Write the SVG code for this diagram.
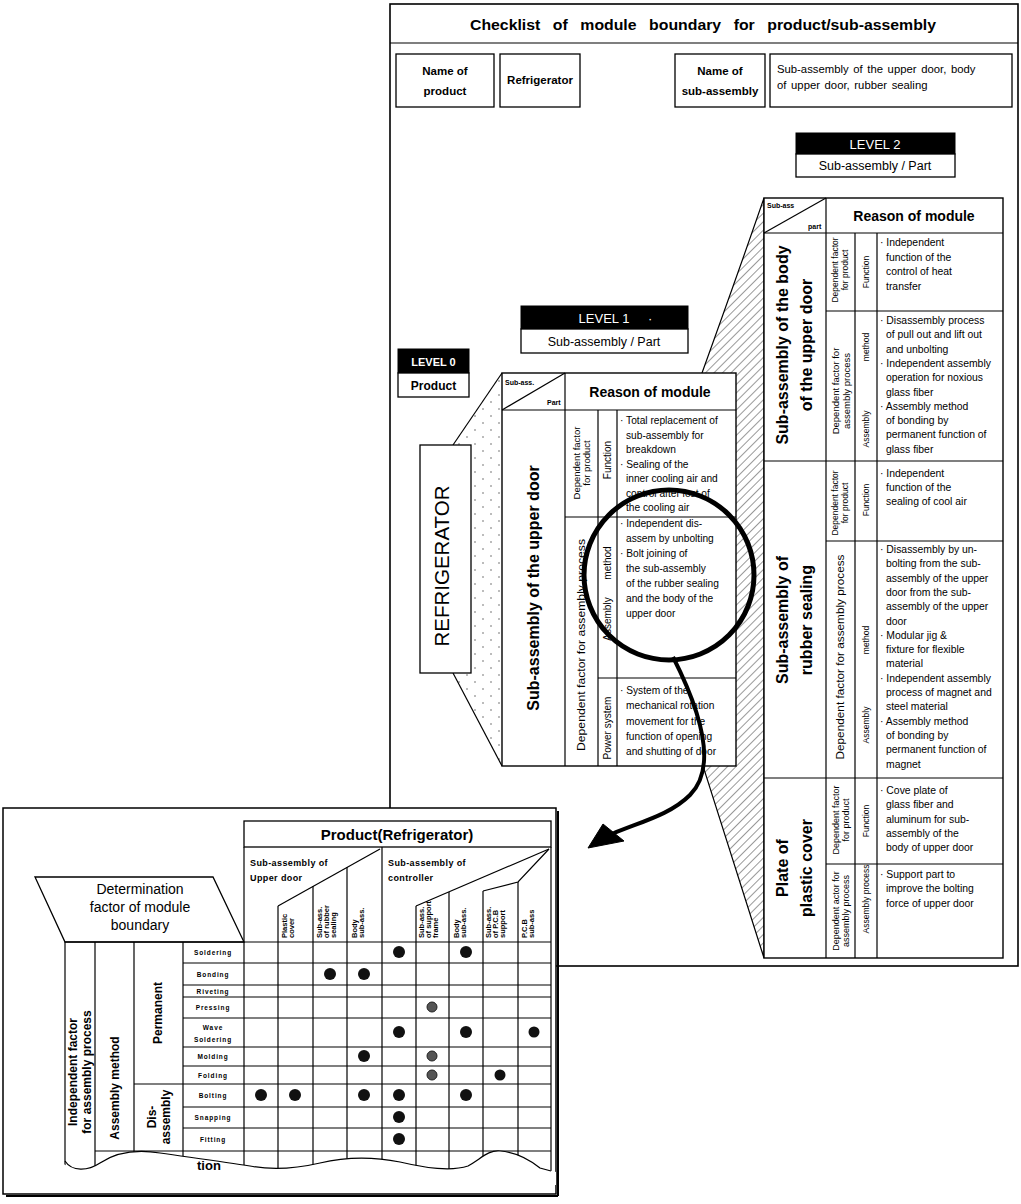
<svg xmlns="http://www.w3.org/2000/svg" width="1021" height="1204" viewBox="0 0 1021 1204">
<defs>
<pattern id="hatch" patternUnits="userSpaceOnUse" width="6" height="6" patternTransform="rotate(45)">
<line x1="0" y1="0" x2="0" y2="6" stroke="#000" stroke-width="0.8"/>
</pattern>
<pattern id="dots" patternUnits="userSpaceOnUse" width="16" height="14">
<circle cx="3" cy="3" r="0.7" fill="#444"/>
<circle cx="11" cy="10" r="0.7" fill="#444"/>
</pattern>
<style>
text{font-family:"Liberation Sans",Arial,Helvetica,sans-serif;fill:#000}
.b{font-weight:bold}
.ln{stroke:#000;stroke-width:1.2;fill:none}
.box{fill:#fff;stroke:#000;stroke-width:1.3}
.blk{fill:#000;stroke:#000;stroke-width:1}
.wt{fill:#fff}
.tx{font-size:10.4px}
.tx1{font-size:10.2px}
.dep{font-size:8.5px}
.cat{font-size:8.5px}
.nm{font-size:16px;font-weight:bold}
.rl{font-size:6.5px;font-weight:bold;letter-spacing:0.9px}
.ch{font-size:7.5px;font-weight:bold}
.dot{fill:#111}
.gdot{fill:#555;stroke:#222;stroke-width:1}
</style>
</defs>

<!-- TOP PANEL -->
<g id="top-panel">
<rect x="390" y="4" width="628" height="962" fill="#fff" stroke="#000" stroke-width="1.6"/>
<line x1="390" y1="43" x2="1018" y2="43" class="ln"/>
<text x="470" y="30" class="b" font-size="15.5" word-spacing="8" textLength="466" lengthAdjust="spacingAndGlyphs">Checklist of module boundary for product/sub-assembly</text>
</g>

<g id="name-of-product">
<rect x="396" y="54" width="98" height="53" class="box"/>
<text x="445" y="75" class="b" font-size="11.5" text-anchor="middle">Name of</text>
<text x="445" y="95" class="b" font-size="11.5" text-anchor="middle">product</text>
</g>
<g id="refrigerator-name">
<rect x="500" y="54" width="80" height="53" class="box"/>
<text x="540" y="84" class="b" font-size="11.5" text-anchor="middle">Refrigerator</text>
</g>
<g id="name-of-sub-assembly">
<rect x="675" y="54" width="90" height="53" class="box"/>
<text x="720" y="75" class="b" font-size="11.5" text-anchor="middle">Name of</text>
<text x="720" y="95" class="b" font-size="11.5" text-anchor="middle">sub-assembly</text>
</g>
<g id="sub-assembly-desc">
<rect x="770" y="54" width="242" height="53" class="box"/>
<text x="777" y="73" font-size="11.3" word-spacing="1.5">Sub-assembly of the upper door, body</text>
<text x="777" y="89" font-size="11.3" word-spacing="1.5">of upper door, rubber sealing</text>
</g>

<!-- connectors between levels -->
<g id="connectors">
<path d="M453 445 L502 373 L502 766 L453 673 Z" fill="url(#dots)"/>
<line x1="453" y1="445" x2="502" y2="373" class="ln"/>
<line x1="453" y1="673" x2="502" y2="766" class="ln"/>
<path d="M764 198 Q742 262 702 373 L703 766 L764 958 Z" fill="url(#hatch)" stroke="#000" stroke-width="1.2"/>
</g>

<!-- LEVEL labels -->
<g id="level0">
<rect x="398" y="349" width="71" height="24" class="blk"/>
<text x="433.5" y="366" class="b wt" font-size="11" text-anchor="middle">LEVEL 0</text>
<rect x="398" y="373" width="71" height="24" class="box"/>
<text x="433.5" y="390" class="b" font-size="12" text-anchor="middle">Product</text>
</g>
<g id="level1">
<rect x="521" y="306" width="167" height="23" class="blk"/>
<text x="604" y="323" font-size="13" class="wt" text-anchor="middle">LEVEL 1</text>
<text x="648" y="323" font-size="13" class="wt">·</text>
<rect x="521" y="329" width="167" height="24" class="box"/>
<text x="604" y="346" font-size="12.5" text-anchor="middle">Sub-assembly / Part</text>
</g>
<g id="level2">
<rect x="796" y="133" width="159" height="21" class="blk"/>
<text x="875" y="149" font-size="13" class="wt" text-anchor="middle">LEVEL 2</text>
<rect x="796" y="154" width="159" height="23" class="box"/>
<text x="875" y="170" font-size="12.5" text-anchor="middle">Sub-assembly / Part</text>
</g>

<!-- LEVEL 0 node -->
<g id="refrigerator-box">
<rect x="420" y="445" width="51" height="228" class="box"/>
<text transform="rotate(-90 449 566)" x="449" y="566" font-size="20.5" text-anchor="middle">REFRIGERATOR</text>
</g>

<!-- LEVEL 1 table -->
<g id="level1-table">
<rect x="502" y="373" width="234" height="393" fill="#fff" stroke="#000" stroke-width="1.4"/>
<line x1="502" y1="410" x2="736" y2="410" class="ln"/>
<line x1="565" y1="373" x2="565" y2="766" class="ln"/>
<line x1="502" y1="410" x2="565" y2="373" class="ln"/>
<line x1="598" y1="410" x2="598" y2="766" class="ln"/>
<line x1="617" y1="410" x2="617" y2="766" class="ln"/>
<line x1="565" y1="517" x2="736" y2="517" class="ln"/>
<line x1="598" y1="678" x2="736" y2="678" class="ln"/>
<text x="505" y="385" class="b" font-size="7">Sub-ass.</text>
<text x="547" y="405" class="b" font-size="7">Part</text>
<text x="650" y="397" class="b" font-size="14" text-anchor="middle">Reason of module</text>
<text transform="rotate(-90 539 588)" x="539" y="588" class="b" font-size="16" text-anchor="middle">Sub-assembly of the upper door</text>
<text transform="rotate(-90 580 463)" x="580" y="463" font-size="9.5" text-anchor="middle">Dependent factor</text>
<text transform="rotate(-90 590 463)" x="590" y="463" font-size="9.5" text-anchor="middle">for product</text>
<text transform="rotate(-90 585 645)" x="585" y="645" font-size="10" text-anchor="middle" textLength="212" lengthAdjust="spacingAndGlyphs">Dependent factor for assembly process</text>
<text transform="rotate(-90 611 460)" x="611" y="460" font-size="10" text-anchor="middle">Function</text>
<text transform="rotate(-90 611 619)" x="611" y="619" font-size="10" text-anchor="middle">Assembly</text>
<text transform="rotate(-90 611 563)" x="611" y="563" font-size="10" text-anchor="middle">method</text>
<text transform="rotate(-90 611 728)" x="611" y="728" font-size="10" text-anchor="middle">Power system</text>
<text class="tx1"><tspan x="620" y="424">· Total replacement of</tspan><tspan x="626" y="438.5">sub-assembly   for</tspan><tspan x="626" y="453">breakdown</tspan><tspan x="620" y="467.5">· Sealing of   the</tspan><tspan x="626" y="482">inner cooling air and</tspan><tspan x="626" y="496.5">control after lost of</tspan><tspan x="626" y="511">the cooling air</tspan></text>
<text class="tx1"><tspan x="620" y="527">· Independent dis-</tspan><tspan x="626" y="542">assem by unbolting</tspan><tspan x="620" y="557">· Bolt joining of</tspan><tspan x="626" y="572">the sub-assembly</tspan><tspan x="626" y="587">of the rubber sealing</tspan><tspan x="626" y="602">and the body of the</tspan><tspan x="626" y="617">upper door</tspan></text>
<text class="tx1"><tspan x="620" y="694">· System of the</tspan><tspan x="626" y="709.3">mechanical rotation</tspan><tspan x="626" y="724.6">movement for the</tspan><tspan x="626" y="739.9">function of opening</tspan><tspan x="626" y="755.2">and shutting of door</tspan></text>
</g>

<!-- LEVEL 2 table -->
<g id="level2-table">
<rect x="764" y="198" width="239" height="760" fill="#fff" stroke="#000" stroke-width="1.4"/>
<line x1="764" y1="233" x2="1003" y2="233" class="ln"/>
<line x1="826" y1="198" x2="826" y2="958" class="ln"/>
<line x1="764" y1="233" x2="826" y2="198" class="ln"/>
<line x1="855" y1="233" x2="855" y2="958" class="ln"/>
<line x1="877" y1="233" x2="877" y2="958" class="ln"/>
<line x1="764" y1="461" x2="1003" y2="461" class="ln"/>
<line x1="764" y1="778" x2="1003" y2="778" class="ln"/>
<line x1="826" y1="311" x2="1003" y2="311" class="ln"/>
<line x1="826" y1="541" x2="1003" y2="541" class="ln"/>
<line x1="826" y1="864" x2="1003" y2="864" class="ln"/>
<text x="767" y="208" class="b" font-size="7">Sub-ass</text>
<text x="808" y="229" class="b" font-size="7">part</text>
<text x="914" y="221" class="b" font-size="14" text-anchor="middle">Reason of module</text>
<text transform="rotate(-90 788 345)" x="788" y="345" class="nm" text-anchor="middle">Sub-assembly of the body</text>
<text transform="rotate(-90 812 345)" x="812" y="345" class="nm" text-anchor="middle">of the upper door</text>
<text transform="rotate(-90 788 620)" x="788" y="620" class="nm" text-anchor="middle">Sub-assembly of</text>
<text transform="rotate(-90 812 620)" x="812" y="620" class="nm" text-anchor="middle">rubber sealing</text>
<text transform="rotate(-90 788 868)" x="788" y="868" class="nm" text-anchor="middle">Plate of</text>
<text transform="rotate(-90 812 868)" x="812" y="868" class="nm" text-anchor="middle">plastic cover</text>
<text transform="rotate(-90 838 270)" x="838" y="270" class="dep" text-anchor="middle">Dependent factor</text>
<text transform="rotate(-90 848 270)" x="848" y="270" class="dep" text-anchor="middle">for product</text>
<text transform="rotate(-90 839 391)" x="839" y="391" font-size="9.5" text-anchor="middle">Dependent factor for</text>
<text transform="rotate(-90 850 391)" x="850" y="391" font-size="9.5" text-anchor="middle">assembly process</text>
<text transform="rotate(-90 838 503)" x="838" y="503" class="dep" text-anchor="middle">Dependent factor</text>
<text transform="rotate(-90 848 503)" x="848" y="503" class="dep" text-anchor="middle">for product</text>
<text transform="rotate(-90 844 657)" x="844" y="657" font-size="10" text-anchor="middle" textLength="205" lengthAdjust="spacingAndGlyphs">Dependent factor for assembly process</text>
<text transform="rotate(-90 839 820)" x="839" y="820" font-size="9" text-anchor="middle">Dependent factor</text>
<text transform="rotate(-90 849 820)" x="849" y="820" font-size="9" text-anchor="middle">for product</text>
<text transform="rotate(-90 839 911)" x="839" y="911" font-size="9" text-anchor="middle">Dependent actor for</text>
<text transform="rotate(-90 849 911)" x="849" y="911" font-size="9" text-anchor="middle">assembly process</text>
<text transform="rotate(-90 869 272)" x="869" y="272" class="cat" text-anchor="middle">Function</text>
<text transform="rotate(-90 869 429)" x="869" y="429" class="cat" text-anchor="middle">Assembly</text>
<text transform="rotate(-90 869 347)" x="869" y="347" class="cat" text-anchor="middle">method</text>
<text transform="rotate(-90 869 500)" x="869" y="500" class="cat" text-anchor="middle">Function</text>
<text transform="rotate(-90 869 725)" x="869" y="725" class="cat" text-anchor="middle">Assembly</text>
<text transform="rotate(-90 869 640)" x="869" y="640" class="cat" text-anchor="middle">method</text>
<text transform="rotate(-90 869 821)" x="869" y="821" class="cat" text-anchor="middle">Function</text>
<text transform="rotate(-90 869 899)" x="869" y="899" class="cat" text-anchor="middle">Assembly process</text>
<text class="tx"><tspan x="880" y="246">· Independent</tspan><tspan x="886" y="260.5">function of the</tspan><tspan x="886" y="275">control of heat</tspan><tspan x="886" y="289.5">transfer</tspan></text>
<text class="tx"><tspan x="880" y="324">· Disassembly process</tspan><tspan x="886" y="338.3">of pull out and lift out</tspan><tspan x="886" y="352.6">and unbolting</tspan><tspan x="880" y="366.9">· Independent assembly</tspan><tspan x="886" y="381.2">operation for noxious</tspan><tspan x="886" y="395.5">glass fiber</tspan><tspan x="880" y="409.8">· Assembly method</tspan><tspan x="886" y="424.1">of bonding by</tspan><tspan x="886" y="438.4">permanent function of</tspan><tspan x="886" y="452.7">glass fiber</tspan></text>
<text class="tx"><tspan x="880" y="477">· Independent</tspan><tspan x="886" y="491">function of the</tspan><tspan x="886" y="505">sealing of cool air</tspan></text>
<text class="tx"><tspan x="880" y="553">· Disassembly by un-</tspan><tspan x="886" y="567.3">bolting from the sub-</tspan><tspan x="886" y="581.6">assembly of the upper</tspan><tspan x="886" y="595.9">door from the sub-</tspan><tspan x="886" y="610.2">assembly of the upper</tspan><tspan x="886" y="624.5">door</tspan><tspan x="880" y="638.8">· Modular jig &amp;</tspan><tspan x="886" y="653.1">fixture for flexible</tspan><tspan x="886" y="667.4">material</tspan><tspan x="880" y="681.7">· Independent assembly</tspan><tspan x="886" y="696">process of magnet and</tspan><tspan x="886" y="710.3">steel material</tspan><tspan x="880" y="724.6">· Assembly method</tspan><tspan x="886" y="738.9">of bonding by</tspan><tspan x="886" y="753.2">permanent function of</tspan><tspan x="886" y="767.5">magnet</tspan></text>
<text class="tx"><tspan x="880" y="794">· Cove plate of</tspan><tspan x="886" y="808.3">glass fiber and</tspan><tspan x="886" y="822.6">aluminum for sub-</tspan><tspan x="886" y="836.9">assembly of the</tspan><tspan x="886" y="851.2">body of upper door</tspan></text>
<text class="tx"><tspan x="880" y="878">· Support part to</tspan><tspan x="886" y="892.3">improve the bolting</tspan><tspan x="886" y="906.6">force of upper door</tspan></text>
</g>

<!-- magnifier and arrow -->
<g id="magnifier-arrow">
<circle cx="669" cy="575" r="85" fill="none" stroke="#000" stroke-width="5"/>
<path d="M673 657 C705 720 715 770 690 795 C670 815 640 822 612 834" fill="none" stroke="#000" stroke-width="4"/>
<path d="M588 848 L603 824 L624 841 Z" fill="#000" stroke="#000" stroke-width="1"/>
</g>

<!-- BOTTOM PANEL -->
<g id="bottom-panel">
<rect x="3" y="808" width="553" height="386" fill="#fff" stroke="#000" stroke-width="1.5"/>
<line x1="558" y1="811" x2="558" y2="1196" stroke="#000" stroke-width="2"/>
<line x1="6" y1="1196" x2="558" y2="1196" stroke="#000" stroke-width="2"/>
</g>

<g id="product-header">
<rect x="244" y="821" width="307" height="26" fill="#fff" stroke="#000" stroke-width="1.3"/>
<text x="397" y="840" class="b" font-size="15" text-anchor="middle">Product(Refrigerator)</text>
<line x1="244" y1="847" x2="244" y2="942" class="ln"/>
<line x1="551" y1="847" x2="551" y2="942" class="ln"/>
<line x1="382" y1="847" x2="382" y2="942" class="ln"/>
<line x1="278" y1="906" x2="380" y2="849" class="ln"/>
<line x1="278" y1="906" x2="278" y2="942" class="ln"/>
<line x1="313" y1="886" x2="313" y2="942" class="ln"/>
<line x1="347" y1="867" x2="347" y2="942" class="ln"/>
<line x1="416" y1="906" x2="549" y2="849" class="ln"/>
<polyline points="549,849 518,882 483,891" class="ln"/>
<line x1="416" y1="906" x2="416" y2="942" class="ln"/>
<line x1="449" y1="892" x2="449" y2="942" class="ln"/>
<line x1="483" y1="891" x2="483" y2="942" class="ln"/>
<line x1="518" y1="882" x2="518" y2="942" class="ln"/>
<text x="250" y="866" class="b" font-size="9" letter-spacing="0.4">Sub-assembly of</text>
<text x="250" y="881" class="b" font-size="9" letter-spacing="0.4">Upper door</text>
<text x="388" y="866" class="b" font-size="9" letter-spacing="0.4">Sub-assembly of</text>
<text x="388" y="881" class="b" font-size="9" letter-spacing="0.4">controller</text>
<text transform="rotate(-90 287 938)" x="287" y="938" class="ch">Plastic</text>
<text transform="rotate(-90 294 938)" x="294" y="938" class="ch">cover</text>
<text transform="rotate(-90 322 938)" x="322" y="938" class="ch">Sub-ass.</text>
<text transform="rotate(-90 329 938)" x="329" y="938" class="ch">of rubber</text>
<text transform="rotate(-90 336 938)" x="336" y="938" class="ch">sealing</text>
<text transform="rotate(-90 357 938)" x="357" y="938" class="ch">Body</text>
<text transform="rotate(-90 364 938)" x="364" y="938" class="ch">sub-ass.</text>
<text transform="rotate(-90 424 938)" x="424" y="938" class="ch">Sub-ass.</text>
<text transform="rotate(-90 431 938)" x="431" y="938" class="ch">of support</text>
<text transform="rotate(-90 438 938)" x="438" y="938" class="ch">frame</text>
<text transform="rotate(-90 459 938)" x="459" y="938" class="ch">Body</text>
<text transform="rotate(-90 466 938)" x="466" y="938" class="ch">sub-ass.</text>
<text transform="rotate(-90 491 938)" x="491" y="938" class="ch">Sub-ass.</text>
<text transform="rotate(-90 498 938)" x="498" y="938" class="ch">of P.C.B</text>
<text transform="rotate(-90 505 938)" x="505" y="938" class="ch">support</text>
<text transform="rotate(-90 527 938)" x="527" y="938" class="ch">P.C.B</text>
<text transform="rotate(-90 534 938)" x="534" y="938" class="ch">sub-ass</text>
</g>

<g id="determination-factor">
<polygon points="35,877 213,877 244,942 65,942" fill="#fff" stroke="#000" stroke-width="1.3"/>
<text x="140" y="894" font-size="14" text-anchor="middle">Determination</text>
<text x="140" y="912" font-size="14" text-anchor="middle">factor of module</text>
<text x="140" y="930" font-size="14" text-anchor="middle">boundary</text>
</g>

<g id="matrix">
<line x1="65" y1="942" x2="551" y2="942" class="ln"/>
<g class="ln">
<line x1="65" y1="942" x2="65" y2="1178"/>
<line x1="95" y1="942" x2="95" y2="1178"/>
<line x1="134" y1="942" x2="134" y2="1178"/>
<line x1="183" y1="942" x2="183" y2="1178"/>
<line x1="244" y1="942" x2="244" y2="1178"/>
<line x1="278" y1="942" x2="278" y2="1178"/>
<line x1="313" y1="942" x2="313" y2="1178"/>
<line x1="347" y1="942" x2="347" y2="1178"/>
<line x1="382" y1="942" x2="382" y2="1178"/>
<line x1="416" y1="942" x2="416" y2="1178"/>
<line x1="449" y1="942" x2="449" y2="1178"/>
<line x1="483" y1="942" x2="483" y2="1178"/>
<line x1="518" y1="942" x2="518" y2="1178"/>
<line x1="551" y1="942" x2="551" y2="1178"/>
<line x1="183" y1="963" x2="551" y2="963"/>
<line x1="183" y1="985" x2="551" y2="985"/>
<line x1="183" y1="997" x2="551" y2="997"/>
<line x1="183" y1="1018" x2="551" y2="1018"/>
<line x1="183" y1="1047" x2="551" y2="1047"/>
<line x1="183" y1="1066" x2="551" y2="1066"/>
<line x1="134" y1="1084" x2="551" y2="1084"/>
<line x1="183" y1="1107" x2="551" y2="1107"/>
<line x1="183" y1="1128" x2="551" y2="1128"/>
<line x1="95" y1="1151" x2="551" y2="1151"/>
</g>
<path d="M60 1161 C72 1172 88 1171 100 1163 C115 1153 135 1149 160 1153 C195 1158 225 1162 250 1166 C270 1170 290 1170 320 1163 C345 1157 370 1156 400 1162 C425 1168 450 1172 468 1166 C482 1158 488 1150 500 1151 C515 1152 530 1160 540 1168 L556 1172 L556 1185 L60 1185 Z" fill="#fff"/>
<path d="M65 1161 C72 1172 88 1171 100 1163 C115 1153 135 1149 160 1153 C195 1158 225 1162 250 1166 C270 1170 290 1170 320 1163 C345 1157 370 1156 400 1162 C425 1168 450 1172 468 1166 C482 1158 488 1150 500 1151 C515 1152 530 1160 540 1168 L551 1171" class="ln"/>
<text x="197" y="1170" class="b" font-size="13">tion</text>
<text transform="rotate(-90 77 1072)" x="77" y="1072" class="b" font-size="12" text-anchor="middle">Independent factor</text>
<text transform="rotate(-90 91 1072)" x="91" y="1072" class="b" font-size="12" text-anchor="middle">for assembly  process</text>
<text transform="rotate(-90 119 1088)" x="119" y="1088" class="b" font-size="12" text-anchor="middle">Assembly method</text>
<text transform="rotate(-90 162 1013)" x="162" y="1013" class="b" font-size="12" text-anchor="middle">Permanent</text>
<text transform="rotate(-90 156 1117)" x="156" y="1117" class="b" font-size="12" text-anchor="middle">Dis-</text>
<text transform="rotate(-90 170 1117)" x="170" y="1117" class="b" font-size="12" text-anchor="middle">assembly</text>
<text x="213" y="955" class="rl" text-anchor="middle">Soldering</text>
<text x="213" y="977" class="rl" text-anchor="middle">Bonding</text>
<text x="213" y="994" class="rl" text-anchor="middle">Riveting</text>
<text x="213" y="1010" class="rl" text-anchor="middle">Pressing</text>
<text x="213" y="1030" class="rl" text-anchor="middle">Wave</text>
<text x="213" y="1042" class="rl" text-anchor="middle">Soldering</text>
<text x="213" y="1059" class="rl" text-anchor="middle">Molding</text>
<text x="213" y="1078" class="rl" text-anchor="middle">Folding</text>
<text x="213" y="1098" class="rl" text-anchor="middle">Bolting</text>
<text x="213" y="1120" class="rl" text-anchor="middle">Snapping</text>
<text x="213" y="1142" class="rl" text-anchor="middle">Fitting</text>
<circle cx="399" cy="952" r="6" class="dot"/>
<circle cx="466" cy="952" r="6" class="dot"/>
<circle cx="330" cy="974" r="6" class="dot"/>
<circle cx="364" cy="974" r="6" class="dot"/>
<circle cx="432" cy="1007" r="5" class="gdot"/>
<circle cx="399" cy="1032" r="6" class="dot"/>
<circle cx="466" cy="1032" r="6" class="dot"/>
<circle cx="534" cy="1032" r="5.5" class="dot"/>
<circle cx="364" cy="1056" r="6" class="dot"/>
<circle cx="432" cy="1056" r="5" class="gdot"/>
<circle cx="432" cy="1075" r="5" class="gdot"/>
<circle cx="500" cy="1075" r="5.5" class="dot"/>
<circle cx="261" cy="1095" r="6" class="dot"/>
<circle cx="295" cy="1095" r="6" class="dot"/>
<circle cx="364" cy="1095" r="6" class="dot"/>
<circle cx="399" cy="1095" r="6" class="dot"/>
<circle cx="466" cy="1095" r="6" class="dot"/>
<circle cx="399" cy="1117" r="6" class="dot"/>
<circle cx="399" cy="1139" r="6" class="dot"/>
</g>
</svg>
